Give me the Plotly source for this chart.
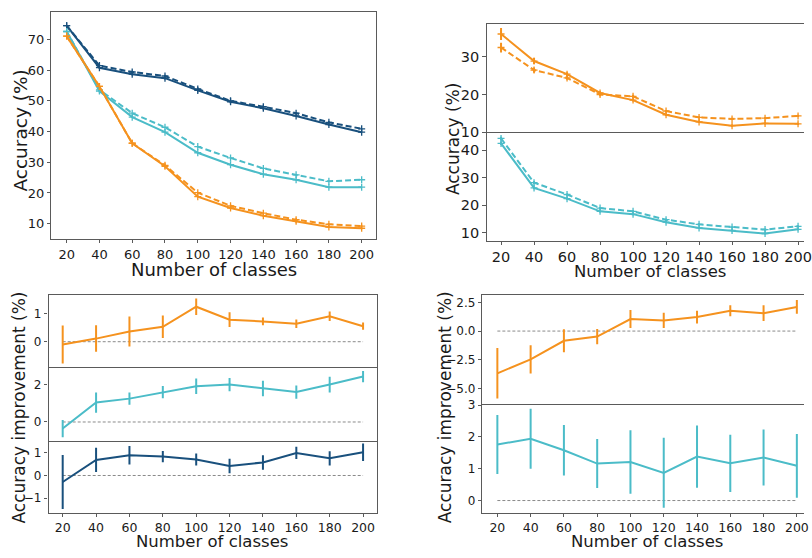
import plotly.graph_objects as go

# ---------------- data ----------------
classes = [20, 40, 60, 80, 100, 120, 140, 160, 180, 200]

# overall accuracy (solid = method, dashed = variant)
acc_blue_solid = [74.5, 60.8, 58.7, 57.4, 53.4, 49.7, 47.6, 45.1, 42.3, 39.8]
acc_blue_dash = [74.5, 61.5, 59.4, 58.1, 53.9, 50.0, 48.1, 46.0, 43.0, 40.9]
acc_teal_solid = [72.6, 53.2, 44.7, 39.8, 33.1, 29.2, 26.1, 24.3, 21.9, 21.9]
acc_teal_dash = [72.6, 53.6, 46.0, 41.4, 35.1, 31.4, 28.0, 25.9, 23.8, 24.3]
acc_orange_solid = [71.1, 54.7, 36.2, 28.7, 18.8, 15.1, 12.6, 10.8, 8.9, 8.5]
acc_orange_dash = [71.1, 54.7, 36.2, 29.0, 20.1, 15.8, 13.4, 11.3, 9.8, 9.2]

# second setting accuracy
acc2_orange_solid = [36.1, 28.9, 25.4, 20.4, 18.5, 14.6, 12.7, 11.7, 12.3, 12.2]
acc2_orange_solid_err = [1.6, 0.8, 0.5, 0.4, 0.4, 0.3, 0.3, 0.3, 0.3, 0.3]
acc2_orange_dash = [32.5, 26.5, 24.4, 20.0, 19.5, 15.6, 13.9, 13.5, 13.7, 14.3]
acc2_orange_dash_err = [1.3, 0.7, 0.5, 0.4, 0.4, 0.3, 0.3, 0.3, 0.3, 0.3]
acc2_teal_solid = [42.4, 26.3, 22.4, 17.8, 16.8, 13.9, 11.8, 10.9, 9.8, 11.3]
acc2_teal_solid_err = [0.6, 0.5, 0.4, 0.4, 0.4, 0.3, 0.3, 0.3, 0.3, 0.3]
acc2_teal_dash = [44.2, 28.2, 23.9, 19.0, 17.8, 14.8, 13.1, 12.1, 11.2, 12.4]
acc2_teal_dash_err = [0.6, 0.5, 0.4, 0.4, 0.4, 0.3, 0.3, 0.3, 0.3, 0.3]

# accuracy improvement (mean, std)
imp_orange = [-0.10, 0.11, 0.36, 0.53, 1.24, 0.78, 0.72, 0.64, 0.90, 0.55]
imp_orange_err = [0.67, 0.47, 0.53, 0.40, 0.29, 0.26, 0.14, 0.15, 0.17, 0.13]
imp_teal = [-0.35, 1.04, 1.25, 1.60, 1.91, 2.00, 1.79, 1.60, 2.00, 2.43]
imp_teal_err = [0.46, 0.54, 0.33, 0.33, 0.41, 0.35, 0.41, 0.35, 0.42, 0.30]
imp_blue = [-0.29, 0.69, 0.90, 0.84, 0.71, 0.42, 0.58, 1.00, 0.76, 1.03]
imp_blue_err = [1.20, 0.54, 0.41, 0.25, 0.27, 0.32, 0.32, 0.27, 0.32, 0.39]

imp2_orange = [-3.68, -2.46, -0.85, -0.48, 1.05, 0.93, 1.22, 1.76, 1.56, 2.10]
imp2_orange_err = [2.2, 1.23, 1.0, 0.67, 0.78, 0.67, 0.55, 0.48, 0.68, 0.60]
imp2_teal = [1.76, 1.94, 1.58, 1.16, 1.21, 0.87, 1.38, 1.17, 1.35, 1.09]
imp2_teal_err = [0.93, 0.94, 0.79, 0.77, 1.0, 1.1, 0.98, 0.90, 0.88, 1.0]

imp2_orange_ticks = [-5.0, -2.5, 0.0, 2.5]
imp2_orange_ticktext = ["\u22125.0", "\u22122.5", "0.0", "2.5"]

# ---------------- style ----------------
ORANGE = "#F5921E"
TEAL = "#4BBCC8"
BLUE = "#19507D"
SPINE = "#5a5a5a"
TXT = "#1a1a1a"
FONT = "DejaVu Sans"
W, H = 812, 558

fig = go.Figure()

# panel boxes in pixels: x0, x1, top, bottom, x-range, y-range,
# show x labels, closed right side, draw top line, tick font sizes (x, y)
panels = {
    1: (52, 380, 6, 239, [10.75, 208.9], [5, 79], True, True, True, (13, 13)),
    2: (491.7, 812, 18.3, 129.3, [11.4, 203.6], [10, 38.8], False, False, True, (14.5, 14.5)),
    3: (491.7, 812, 129.3, 240.7, [11.4, 203.6], [7.2, 46.5], True, False, False, (14.5, 14.5)),
    4: (49, 381, 296, 370.7, [11.5, 208.5], [-0.91, 1.67], False, True, True, (12.5, 12)),
    5: (49, 381, 370.7, 445.7, [11.5, 208.5], [-0.99, 2.92], False, True, False, (12.5, 12)),
    6: (49, 381, 445.7, 520, [11.5, 208.5], [-1.66, 1.55], True, True, False, (12.5, 12)),
    7: (487.3, 812, 296, 408.3, [11.07, 204.3], [-6.36, 3.18], False, False, True, (12.5, 12)),
    8: (487.3, 812, 408.3, 520, [11.07, 204.3], [-0.39, 3.03], True, False, False, (12.5, 12)),
}
yticks = {
    1: dict(tickvals=[10, 20, 30, 40, 50, 60, 70]),
    2: dict(tickvals=[10, 20, 30]),
    3: dict(tickvals=[10, 20, 30, 40]),
    4: dict(tickvals=[0, 1]),
    5: dict(tickvals=[0, 2]),
    6: dict(tickvals=[-1, 0, 1]),
    7: dict(tickvals=imp2_orange_ticks, ticktext=imp2_orange_ticktext),
    8: dict(tickvals=[0, 1, 2, 3]),
}

layout = {}
for i, (x0, x1, top, bot, xr, yr, showx, closed, topline, fs) in panels.items():
    sfx = "" if i == 1 else str(i)
    layout["xaxis" + sfx] = dict(
        domain=[x0 / W, min(x1 / W, 1.0)], range=xr, anchor="y" + sfx,
        tickvals=classes, showticklabels=showx, ticks="outside" if showx else "",
        ticklen=3, tickcolor=SPINE, tickwidth=1.2, ticklabeloverflow="allow",
        showline=True, mirror=topline, linecolor=SPINE, linewidth=1.3,
        showgrid=False, zeroline=False,
        tickfont=dict(family=FONT, size=fs[0], color=TXT),
    )
    layout["yaxis" + sfx] = dict(
        domain=[1 - bot / H, 1 - top / H], range=yr, anchor="x" + sfx,
        ticks="outside", ticklen=3.5, tickcolor=SPINE, tickwidth=1.2,
        ticklabeloverflow="allow",
        showline=True, mirror=closed, linecolor=SPINE, linewidth=1.3,
        showgrid=False, zeroline=False,
        tickfont=dict(family=FONT, size=fs[1], color=TXT),
        **yticks[i],
    )


def line(i, y, color, dash="solid", err=None, marker=True, width=2):
    sfx = "" if i == 1 else str(i)
    tr = dict(
        x=classes, y=y, mode="lines+markers" if marker else "lines",
        xaxis="x" + sfx, yaxis="y" + sfx, showlegend=False,
        line=dict(color=color, width=width, dash=dash),
        marker=dict(symbol="cross-thin-open", size=5, line=dict(color=color, width=1.3)),
    )
    if err is not None:
        tr["error_y"] = dict(type="data", array=err, visible=True,
                             thickness=2, width=0, color=color)
    fig.add_trace(go.Scatter(**tr))


DASH = "6px,3px"

# overall accuracy
line(1, acc_blue_solid, BLUE)
line(1, acc_blue_dash, BLUE, DASH)
line(1, acc_teal_solid, TEAL)
line(1, acc_teal_dash, TEAL, DASH)
line(1, acc_orange_solid, ORANGE)
line(1, acc_orange_dash, ORANGE, DASH)

# second setting accuracy
line(2, acc2_orange_solid, ORANGE, err=acc2_orange_solid_err)
line(2, acc2_orange_dash, ORANGE, DASH, err=acc2_orange_dash_err)
line(3, acc2_teal_solid, TEAL, err=acc2_teal_solid_err)
line(3, acc2_teal_dash, TEAL, DASH, err=acc2_teal_dash_err)

# zero reference lines and improvements
for i in (4, 5, 6, 7, 8):
    sfx = str(i)
    fig.add_trace(go.Scatter(
        x=[classes[0], classes[-1]], y=[0, 0], mode="lines",
        xaxis="x" + sfx, yaxis="y" + sfx, showlegend=False, hoverinfo="skip",
        line=dict(color="#8a8a8a", width=1, dash="3px,2px"),
    ))

line(4, imp_orange, ORANGE, err=imp_orange_err, marker=False)
line(5, imp_teal, TEAL, err=imp_teal_err, marker=False)
line(6, imp_blue, BLUE, err=imp_blue_err, marker=False)
line(7, imp2_orange, ORANGE, err=imp2_orange_err, marker=False)
line(8, imp2_teal, TEAL, err=imp2_teal_err, marker=False)

# axis titles
def title(text, x, y, size, angle=0):
    return dict(text=text, x=x / W, y=1 - y / H, xref="paper", yref="paper",
                showarrow=False, textangle=angle, xanchor="center", yanchor="middle",
                font=dict(family=FONT, size=size, color=TXT))

annotations = [
    title("Accuracy (%)", 21, 128, 18.5, -90),
    title("Number of classes", 216, 270.5, 18),
    title("Accuracy (%)", 457, 136, 17, -90),
    title("Number of classes", 656, 272, 16.5),
    title("Accuracy improvement (%)", 19, 412, 17, -90),
    title("Number of classes", 214, 549, 16.5),
    title("Accuracy improvement (%)", 449, 412, 17, -90),
    title("Number of classes", 653, 549, 16.5),
]

fig.update_layout(
    width=W, height=H, margin=dict(l=0, r=0, t=0, b=0),
    paper_bgcolor="white", plot_bgcolor="white",
    annotations=annotations, **layout,
)

fig.write_html("out.html")
